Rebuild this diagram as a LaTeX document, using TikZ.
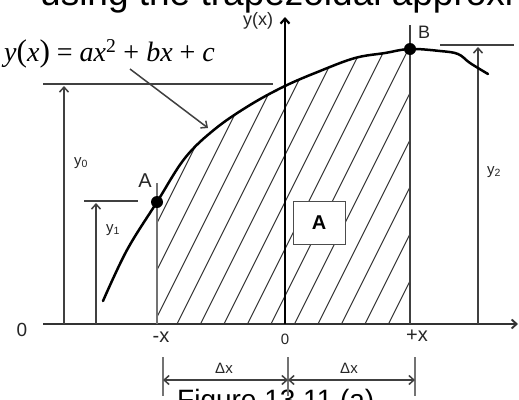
\documentclass[tikz,border=0pt]{standalone}
\usepackage{fontspec}
\setmainfont{Liberation Sans}
\newfontfamily\eqfont{Liberation Serif}
\usetikzlibrary{arrows.meta}
\begin{document}
\begin{tikzpicture}[x=1pt,y=-1pt,
  ln/.style={draw=black!75, line width=1.5pt},
  axisln/.style={draw=black!80, line width=1.9pt},
  guide/.style={draw=black!55, line width=1.2pt},
  arr/.style={ln, -{Straight Barb[length=5pt,width=9pt]}},
  dimarr/.style={ln, {Straight Barb[length=5pt,width=9pt]}-{Straight Barb[length=5pt,width=9pt]}},
  hatchln/.style={draw=black!80, line width=1pt},
  crv/.style={draw=black, line width=2.5pt, line join=round, line cap=round},
  dotnode/.style={circle, fill=black, inner sep=0pt, minimum size=12pt},
  lbl/.style={inner sep=0pt, text=black!85},
]
\useasboundingbox (0,0) rectangle (519,399);
\clip (0,0) rectangle (519,399);
\fill[white] (0,0) rectangle (519,399);

% title and caption (cut by the frame)
\node[anchor=base west, inner sep=0pt, font=\fontsize{37}{37}\selectfont] (title) at (40,5) {using the trapezoidal approxi};
\node[anchor=base west, inner sep=0pt, font=\fontsize{28}{28}\selectfont] (caption) at (177,409) {Figure 13.11 (a)};

% hatching under the curve between -x and +x
\begin{scope}
\clip plot[smooth, tension=0.6] coordinates {(157,202) (185,158) (215,129) (250,105) (285,86) (320,71) (355,58) (385,53) (410,49)} -- (410,324) -- (157,324) -- cycle;
\foreach \k in {-3,...,10} \draw[hatchln] ({177+23.5*\k},324) -- ++(150,-300);
\end{scope}

% coordinates
\coordinate (xs) at (43,324);
\coordinate (xe) at (518,324);
\coordinate (ys) at (285,324);
\coordinate (ye) at (285,17);
\coordinate (m1t) at (157,183);
\coordinate (m1b) at (157,324);
\coordinate (p1t) at (410,25);
\coordinate (p1b) at (410,324);
\coordinate (h0a) at (43,84);
\coordinate (h0b) at (273,84);
\coordinate (v0b) at (64,324);
\coordinate (v0t) at (64,86);
\coordinate (h1a) at (84,201);
\coordinate (h1b) at (138,201);
\coordinate (v1b) at (96,324);
\coordinate (v1t) at (96,203);
\coordinate (h2a) at (440,45);
\coordinate (h2b) at (514,45);
\coordinate (v2b) at (478,324);
\coordinate (v2t) at (478,47);
\coordinate (ls) at (130,69);
\coordinate (lt) at (208,128);
\coordinate (e1t) at (163,357);
\coordinate (e1b) at (163,396);
\coordinate (e2t) at (288,357);
\coordinate (e2b) at (288,396);
\coordinate (e3t) at (415,357);
\coordinate (e3b) at (415,396);
\coordinate (d1) at (163,380);
\coordinate (d2) at (288,380);
\coordinate (d3) at (415,380);

% axes
\draw[axisln, -{Straight Barb[length=5pt,width=9pt]}] (xs) -- (xe);
\draw[draw=black, line width=2.2pt, -{Straight Barb[length=5pt,width=9pt]}] (ys) -- (ye);

% vertical guides at -x and +x
\draw[guide] (m1t) -- (m1b);
\draw[ln] (p1t) -- (p1b);

% ordinate lines
\draw[ln] (h0a) -- (h0b);
\draw[arr] (v0b) -- (v0t);
\draw[ln] (h1a) -- (h1b);
\draw[arr] (v1b) -- (v1t);
\draw[ln] (h2a) -- (h2b);
\draw[arr] (v2b) -- (v2t);

% curve
\draw[crv] plot[smooth, tension=0.6] coordinates {(103,301) (127,250) (157,202) (185,158) (215,129) (250,105) (285,86) (320,71) (355,58) (385,53) (410,49) (440,51) (458,54) (470,63) (488,74)};

\node[dotnode] (A) at (157,202) {};
\node[dotnode] (B) at (410,49) {};

% equation and leader
\node[anchor=west, inner sep=0pt, font=\eqfont\fontsize{28}{28}\selectfont] (eq) at (4,54) {\textit{y}\scalebox{1.12}{(}\textit{x}\scalebox{1.12}{)} = \textit{ax}\textsuperscript{2} + \textit{bx} + \textit{c}};
\draw[arr] (ls) -- (lt);

% area box
\node[draw=black!70, line width=1pt, fill=white, minimum width=52pt, minimum height=43pt, inner sep=0pt, font=\bfseries\fontsize{20}{20}\selectfont] (boxA) at (319,222.5) {A};

% labels
\node[lbl, font=\fontsize{18}{18}\selectfont] (ylab) at (258,21) {y(x)};
\node[lbl, font=\fontsize{20}{20}\selectfont] (Alab) at (145,181) {A};
\node[lbl, font=\fontsize{18}{18}\selectfont] (Blab) at (424,32) {B};
\node[lbl, font=\fontsize{15}{15}\selectfont] (y0lab) at (81,163) {y\textsubscript{0}};
\node[lbl, font=\fontsize{15}{15}\selectfont] (y1lab) at (113,230) {y\textsubscript{1}};
\node[lbl, font=\fontsize{15}{15}\selectfont] (y2lab) at (494,172) {y\textsubscript{2}};
\node[lbl, font=\fontsize{19}{19}\selectfont] (o0) at (22,330) {0};
\node[lbl, font=\fontsize{20}{20}\selectfont] (mx) at (161,337) {-x};
\node[lbl, font=\fontsize{15}{15}\selectfont] (o1) at (285,339) {0};
\node[lbl, font=\fontsize{20}{20}\selectfont] (px) at (417,336) {+x};

% delta x dimensions
\draw[guide] (e1t) -- (e1b);
\draw[guide] (e2t) -- (e2b);
\draw[guide] (e3t) -- (e3b);
\draw[dimarr] (d1) -- (d2);
\draw[dimarr] (d2) -- (d3);
\node[lbl, font=\fontsize{15}{15}\selectfont] (dx1) at (224,368) {Δx};
\node[lbl, font=\fontsize{15}{15}\selectfont] (dx2) at (349,368) {Δx};
\end{tikzpicture}
\end{document}
